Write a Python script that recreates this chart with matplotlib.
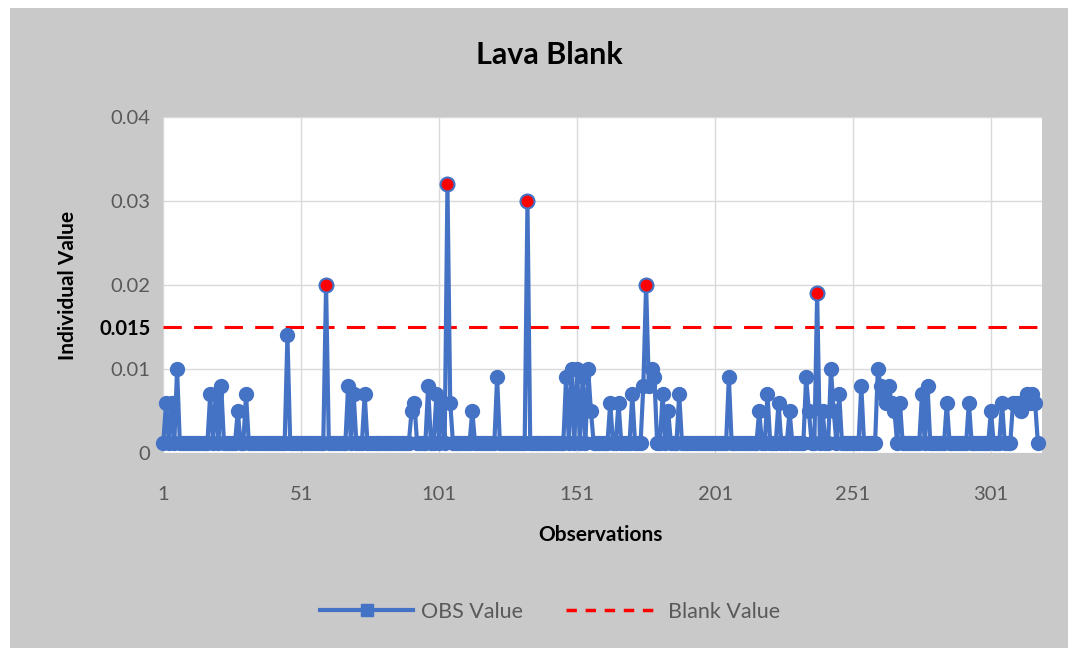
import numpy as np
import matplotlib.pyplot as plt
from matplotlib.lines import Line2D
from matplotlib.patches import Rectangle

plt.rcParams['font.family'] = ['Lato', 'DejaVu Sans']

# values: most observations sit at the base value,
# the listed observations are the spikes
n_obs = 318
base_value = 0.0012
spike_obs = [2, 4, 6, 18, 20, 22, 28, 31, 46, 60,
             68, 70, 74, 91, 92, 97, 100, 102, 104, 105,
             113, 122, 133, 147, 149, 151, 153, 155, 156, 163,
             166, 171, 175, 176, 177, 178, 179, 182, 184, 188,
             206, 217, 220, 224, 228, 234, 235, 238, 240, 243,
             244, 246, 254, 260, 261, 262, 263, 264, 265, 266,
             268, 276, 278, 285, 293, 301, 305, 309, 310, 311,
             312, 313, 314, 315, 316, 317]
spike_val = [0.006, 0.006, 0.010, 0.007, 0.007, 0.008, 0.005, 0.007, 0.014, 0.020,
             0.008, 0.007, 0.007, 0.005, 0.006, 0.008, 0.007, 0.006, 0.032, 0.006,
             0.005, 0.009, 0.030, 0.009, 0.010, 0.010, 0.009, 0.010, 0.005, 0.006,
             0.006, 0.007, 0.008, 0.020, 0.008, 0.010, 0.009, 0.007, 0.005, 0.007,
             0.009, 0.005, 0.007, 0.006, 0.005, 0.009, 0.005, 0.019, 0.005, 0.010,
             0.005, 0.007, 0.008, 0.010, 0.008, 0.007, 0.006, 0.008, 0.006, 0.005,
             0.006, 0.007, 0.008, 0.006, 0.006, 0.005, 0.006, 0.006, 0.006, 0.006,
             0.005, 0.006, 0.007, 0.006, 0.007, 0.006]
blank_value = 0.015

x_ticks = [1, 51, 101, 151, 201, 251, 301]
y_ticks = [0, 0.01, 0.015, 0.02, 0.03, 0.04]
y_labels = ['0', '0.01', '0.015', '0.02', '0.03', '0.04']

obs = np.arange(1, n_obs + 1)
obs_value = np.full(n_obs, base_value)
obs_value[np.array(spike_obs) - 1] = spike_val

blue = '#4472C4'
grey_txt = '#595959'

fig = plt.figure(figsize=(10.8, 6.56), dpi=100, facecolor='white')
fig.patches.append(Rectangle((10 / 1080, 8 / 656), 1058 / 1080, 640 / 656,
                             transform=fig.transFigure, facecolor='#c9c9c9',
                             edgecolor='none', zorder=-10))

ax = fig.add_axes([163 / 1080, 1 - 453 / 656, 879 / 1080, 336 / 656])
ax.set_facecolor('white')

ax.axhline(blank_value, color='red', lw=2.2, dashes=(6, 4), zorder=2)
ax.plot(obs, obs_value, color=blue, lw=3, marker='o', ms=10,
        zorder=3, clip_on=False)
high = obs_value > blank_value
ax.plot(obs[high], obs_value[high], ls='none', marker='o', ms=10,
        mfc='red', mec=blue, mew=1.5, zorder=4, clip_on=False)

ax.set_xlim(0.9, 319.5)
ax.set_ylim(0, 0.04)
ax.set_xticks(x_ticks)
ax.set_yticks(y_ticks)
ax.set_yticklabels(y_labels)
ax.tick_params(axis='both', length=0, labelsize=14.5, labelcolor=grey_txt)
ax.tick_params(axis='x', pad=24)
ax.tick_params(axis='y', pad=9)
ax.yaxis.get_ticklabels()[2].set_fontweight('bold')
ax.yaxis.get_ticklabels()[2].set_color('black')

ax.grid(True, color='#d9d9d9', lw=1)
ax.yaxis.get_gridlines()[2].set_visible(False)
ax.set_axisbelow(True)
for s in ax.spines.values():
    s.set_visible(False)

fig.text(0.509, 1 - 55 / 656, 'Lava Blank', ha='center', va='center',
         fontsize=22, fontweight='bold')
fig.text(600 / 1080, 1 - 535 / 656, 'Observations', ha='center', va='center',
         fontsize=15, fontweight='bold')
fig.text(68 / 1080, 1 - 285 / 656, 'Individual Value', ha='center', va='center',
         rotation=90, fontsize=15, fontweight='bold')

handles = [Line2D([], [], color=blue, lw=3, marker='s', ms=8),
           Line2D([], [], color='red', lw=2.5, dashes=(3, 2.5))]
fig.legend(handles, ['OBS Value', 'Blank Value'], loc='center',
           bbox_to_anchor=(550 / 1080, 1 - 612 / 656), ncol=2, frameon=False,
           handlelength=4.3, columnspacing=2.0, handletextpad=0.4,
           fontsize=15.5, labelcolor=grey_txt)

fig.savefig('out.png', dpi=100, facecolor=fig.get_facecolor())
